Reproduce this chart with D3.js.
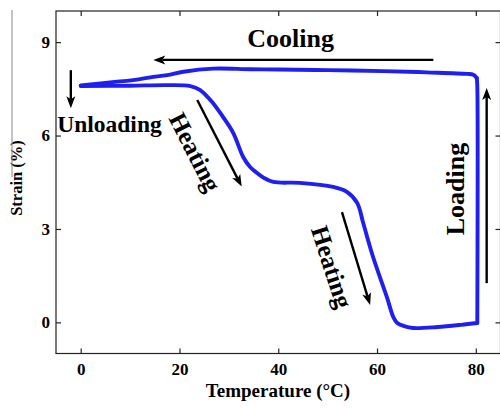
<!DOCTYPE html>
<html>
<head>
<meta charset="utf-8">
<script src="https://cdn.jsdelivr.net/npm/d3@7"></script>
<style>
  html, body { margin: 0; padding: 0; background: #fff; }
  svg { display: block; }
  text { font-family: "Liberation Serif", "Times New Roman", serif; font-weight: bold; fill: #000; }
</style>
</head>
<body>
<svg id="chart" width="500" height="408"></svg>
<script>
// Axis ticks
const xTicks = [0, 20, 40, 60, 80];
const yTicks = [0, 3, 6, 9];

// Loading at 80 °C
const loadTemp   = [80.3, 80.3, 80.2];
const loadStrain = [-0.02, 7.6, 7.85];

// Cooling from 80 °C to 0 °C under load
const coolTemp   = [80.2, 79.5, 78.2, 70, 61.2, 50, 40, 34.3, 26.8, 20.8, 17.5, 14.1, 10.6, 7.4, 0];
const coolStrain = [7.85, 7.95, 7.98, 8.03, 8.07, 8.1, 8.12, 8.13, 8.15, 8.05, 7.94, 7.87, 7.78, 7.73, 7.61];

// Unloaded heating from 0 °C to 80 °C
const heatTemp   = [0, 10, 17.5, 22.2, 24.2, 26.8, 28.8, 30.9, 32.9, 34.3, 35.7, 37, 39.0, 44.4, 51.1, 53.9, 56.0, 57.2, 59.2, 62.0, 63.3, 64.1, 65.5, 67.3, 72.2, 77, 80.3];
const heatStrain = [7.59, 7.6, 7.62, 7.59, 7.46, 7.04, 6.6, 6.08, 5.31, 4.99, 4.80, 4.65, 4.51, 4.48, 4.35, 4.19, 3.83, 3.19, 2.10, 0.81, 0.17, -0.02, -0.12, -0.18, -0.15, -0.08, -0.02];

// Process annotations (positions in data units)
const arrowNames = ["Cooling", "Unloading", "Heating1", "Heating2", "Loading"];
const arrowFrom  = [[71.4, 8.43], [-2.0, 8.1], [23.6, 7.14], [52.9, 3.54], [82.2, 1.26]];
const arrowTo    = [[14.7, 8.43], [-2.0, 6.88], [32.6, 4.36], [58.6, 0.56], [82.2, 7.53]];

const labelTexts  = ["Cooling", "Unloading", "Heating", "Heating", "Loading"];
const labelAt     = [[42.5, 8.84], [-4.75, 6.11], [23.2, 5.47], [50.9, 1.78], [75.8, 4.28]];
const labelAngle  = [0, 0, 63, 72, -90];
const labelSize   = [26, 23.5, 25, 25, 26];
const labelAnchor = ["middle", "start", "middle", "middle", "middle"];

const svg = d3.select("#chart");
const plotLeft = 56, plotRight = 500.5, plotTop = 11, plotBottom = 353.5;

const x = d3.scaleLinear().domain([-5, 85]).range([plotLeft, plotRight]);
const y = d3.scaleLinear().domain([-1, 10]).range([plotBottom, plotTop]);

// Frame with inward ticks on all four sides
const tickLen = 5;
const axisColor = "#222";
svg.append("rect")
  .attr("x", plotLeft).attr("y", plotTop)
  .attr("width", plotRight - plotLeft).attr("height", plotBottom - plotTop)
  .attr("fill", "none").attr("stroke", axisColor).attr("stroke-width", 1.2);

const gx = svg.append("g").attr("transform", `translate(0,${plotBottom})`)
  .call(d3.axisBottom(x).tickValues(xTicks).tickSizeInner(-tickLen).tickSizeOuter(0).tickPadding(9));
const gxTop = svg.append("g").attr("transform", `translate(0,${plotTop})`)
  .call(d3.axisTop(x).tickValues(xTicks).tickSizeInner(-tickLen).tickSizeOuter(0).tickFormat(""));
const gy = svg.append("g").attr("transform", `translate(${plotLeft},0)`)
  .call(d3.axisLeft(y).tickValues(yTicks).tickSizeInner(-tickLen).tickSizeOuter(0).tickPadding(6));
const gyRight = svg.append("g").attr("transform", `translate(${plotRight},0)`)
  .call(d3.axisRight(y).tickValues(yTicks).tickSizeInner(-tickLen).tickSizeOuter(0).tickFormat(""));

[gx, gxTop, gy, gyRight].forEach(g => {
  g.select(".domain").remove();
  g.selectAll(".tick line").attr("stroke", axisColor).attr("stroke-width", 1.2);
  g.selectAll("text")
    .style("font-family", '"Liberation Serif", "Times New Roman", serif')
    .style("font-weight", "bold")
    .style("font-size", "17px")
    .attr("fill", "#000");
});

// Axis titles
svg.append("text")
  .attr("x", 278).attr("y", 397)
  .attr("text-anchor", "middle")
  .style("font-size", "19px")
  .text("Temperature (°C)");

svg.append("text")
  .attr("transform", "translate(22,178) rotate(-90)")
  .attr("text-anchor", "middle")
  .style("font-size", "16.5px")
  .text("Strain (%)");

// Thin grey rule along the left margin
svg.append("line")
  .attr("x1", 12).attr("x2", 12).attr("y1", 10).attr("y2", 177)
  .attr("stroke", "#888").attr("stroke-width", 1);

// Strain–temperature cycle
const line = d3.line()
  .x(d => x(d[0])).y(d => y(d[1]))
  .curve(d3.curveCatmullRom.alpha(0.5));
const segments = [
  d3.zip(loadTemp, loadStrain),
  d3.zip(coolTemp, coolStrain),
  d3.zip(heatTemp, heatStrain)
];
svg.append("g").selectAll("path")
  .data(segments)
  .join("path")
  .attr("d", line)
  .attr("fill", "none")
  .attr("stroke", "#1f1ff2")
  .attr("stroke-width", 3.9)
  .attr("stroke-linejoin", "round")
  .attr("stroke-linecap", "round");

// Annotation arrows
const arrows = svg.append("g");
arrowNames.forEach((name, i) => {
  const x1 = x(arrowFrom[i][0]), y1 = y(arrowFrom[i][1]);
  const x2 = x(arrowTo[i][0]),   y2 = y(arrowTo[i][1]);
  const ang = Math.atan2(y2 - y1, x2 - x1);
  const headLen = 12, headHalf = 4.5, notch = 3;
  const ux = Math.cos(ang), uy = Math.sin(ang);
  const bx = x2 - ux * headLen, by = y2 - uy * headLen;
  arrows.append("line")
    .attr("x1", x1).attr("y1", y1)
    .attr("x2", x2 - ux * (headLen - notch)).attr("y2", y2 - uy * (headLen - notch))
    .attr("stroke", "#000").attr("stroke-width", 2.4);
  arrows.append("path")
    .attr("d", `M${x2},${y2}L${bx - uy * headHalf},${by + ux * headHalf}` +
               `L${x2 - ux * (headLen - notch)},${y2 - uy * (headLen - notch)}` +
               `L${bx + uy * headHalf},${by - ux * headHalf}Z`)
    .attr("fill", "#000");
});

// Annotation labels
labelTexts.forEach((t, i) => {
  const px = x(labelAt[i][0]), py = y(labelAt[i][1]);
  const txt = svg.append("text")
    .attr("transform", `translate(${px},${py}) rotate(${labelAngle[i]})`)
    .attr("text-anchor", labelAnchor[i])
    .style("font-size", labelSize[i] + "px")
    .text(t);
  if (labelAngle[i] !== 0) txt.attr("dy", "0.35em");
});
</script>
</body>
</html>
